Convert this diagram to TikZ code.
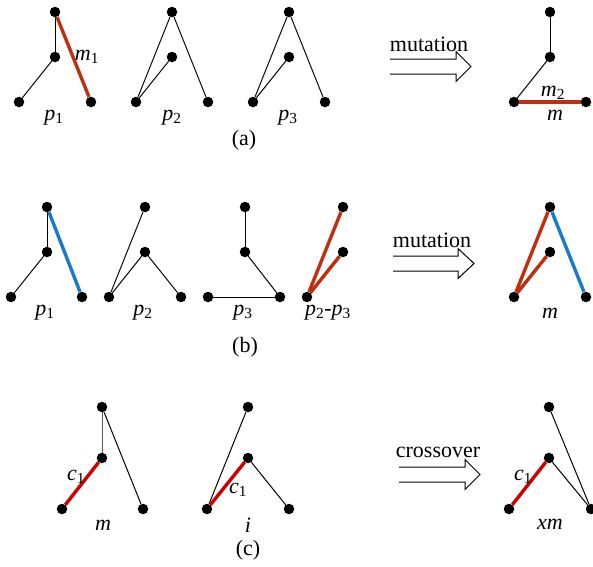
\documentclass[tikz,border=0pt]{standalone}
\usepackage{fontspec}
\setmainfont{Liberation Serif}
\definecolor{mutred}{RGB}{192,46,14}
\definecolor{crossred}{RGB}{206,0,0}
\definecolor{mutblue}{RGB}{24,122,204}
\begin{document}
\begin{tikzpicture}[x=1pt,y=-1pt,font=\fontsize{22}{26}\selectfont]

      \useasboundingbox (0,0) rectangle (593,566);

      % (a)
      \begin{scope}[every node/.style={circle,fill,inner sep=0pt,minimum size=10.5pt}]
        \node (a1)  at (55,12)  {};
        \node (a2)  at (55,57)  {};
        \node (a3)  at (19,102) {};
        \node (a4)  at (91,102) {};
        \node (a5)  at (172,12) {};
        \node (a6)  at (172,57) {};
        \node (a7)  at (136,102) {};
        \node (a8)  at (208,102) {};
        \node (a9)  at (289,12) {};
        \node (a10) at (289,57) {};
        \node (a11) at (253,102) {};
        \node (a12) at (325,102) {};
        \node (a13) at (550,12) {};
        \node (a14) at (550,57) {};
        \node (a15) at (514,102) {};
        \node (a16) at (586,102) {};
      \end{scope}

      \begin{scope}[every edge/.style={draw,line width=1pt}]
        \path (a1)  edge (a2);
        \path (a2)  edge (a3);
        \path (a5)  edge (a7);
        \path (a6)  edge (a7);
        \path (a5)  edge (a8);
        \path (a9)  edge (a11);
        \path (a10) edge (a11);
        \path (a9)  edge (a12);
        \path (a13) edge (a14);
        \path (a14) edge (a15);
      \end{scope}
      \begin{scope}[every edge/.style={draw,mutred,line width=3.4pt}]
        \path (a1)  edge (a4);
        \path (a15) edge (a16);
      \end{scope}

      \node (m1)  at (87,57)   {\textit{m}\textsubscript{1}};
      \node (pa1) at (54,118)  {\textit{p}\textsubscript{1}};
      \node (pa2) at (172,118) {\textit{p}\textsubscript{2}};
      \node (pa3) at (288,118) {\textit{p}\textsubscript{3}};
      \node (m2)  at (553,93)  {\textit{m}\textsubscript{2}};
      \node (ma)  at (555,115) {\textit{m}};
      \node (capa) at (244,140) {(a)};
      \node (muta) at (429,44) {mutation};
      \draw[line width=1pt,shift={(390,66.5)}]
        (0,-7.5) -- (66,-7.5) -- (66,-15) -- (81,0) -- (66,15) -- (66,7.5) -- (0,7.5);

      % (b)
      \begin{scope}[every node/.style={circle,fill,inner sep=0pt,minimum size=10.5pt}]
        \node (b1)  at (47,207)  {};
        \node (b2)  at (47,252)  {};
        \node (b3)  at (11,297)  {};
        \node (b4)  at (82,297)  {};
        \node (b5)  at (145,207) {};
        \node (b6)  at (145,252) {};
        \node (b7)  at (109,297) {};
        \node (b8)  at (181,297) {};
        \node (b9)  at (245,207) {};
        \node (b10) at (245,252) {};
        \node (b11) at (208,297) {};
        \node (b12) at (280,297) {};
        \node (b13) at (343,207) {};
        \node (b14) at (343,252) {};
        \node (b15) at (307,297) {};
        \node (b16) at (550,207) {};
        \node (b17) at (550,252) {};
        \node (b18) at (514,297) {};
        \node (b19) at (586,297) {};
      \end{scope}

      \begin{scope}[every edge/.style={draw,line width=1pt}]
        \path (b1)  edge (b2);
        \path (b2)  edge (b3);
        \path (b5)  edge (b7);
        \path (b6)  edge (b7);
        \path (b6)  edge (b8);
        \path (b9)  edge (b10);
        \path (b10) edge (b12);
        \path (b11) edge (b12);
      \end{scope}
      \begin{scope}[every edge/.style={draw,mutred,line width=3.4pt}]
        \path (b13) edge (b15);
        \path (b14) edge (b15);
        \path (b16) edge (b18);
        \path (b17) edge (b18);
      \end{scope}
      \begin{scope}[every edge/.style={draw,mutblue,line width=3.4pt}]
        \path (b1)  edge (b4);
        \path (b16) edge (b19);
      \end{scope}

      \node (pb1) at (45,313)  {\textit{p}\textsubscript{1}};
      \node (pb2) at (143,313) {\textit{p}\textsubscript{2}};
      \node (pb3) at (243,313) {\textit{p}\textsubscript{3}};
      \node (pb23) at (328,313) {\textit{p}\textsubscript{2}-\textit{p}\textsubscript{3}};
      \node (mb)  at (550,313) {\textit{m}};
      \node (capb) at (245,347) {(b)};
      \node (mutb) at (432,240) {mutation};
      \draw[line width=1pt,shift={(393,263.5)}]
        (0,-7.5) -- (65,-7.5) -- (65,-15) -- (81,0) -- (65,15) -- (65,7.5) -- (0,7.5);

      % (c)
      \begin{scope}[every node/.style={circle,fill,inner sep=0pt,minimum size=10.5pt}]
        \node (c1)  at (102,407) {};
        \node (c2)  at (102,458) {};
        \node (c3)  at (62,509)  {};
        \node (c4)  at (143,509) {};
        \node (c5)  at (248,407) {};
        \node (c6)  at (248,458) {};
        \node (c7)  at (207,509) {};
        \node (c8)  at (289,509) {};
        \node (c9)  at (549,407) {};
        \node (c10) at (549,458) {};
        \node (c11) at (509,509) {};
        \node (c12) at (591,509) {};
      \end{scope}

      \begin{scope}[every edge/.style={draw,line width=1pt}]
        \path (c1)  edge[black!65] (c2);
        \path (c1)  edge (c4);
        \path (c5)  edge (c7);
        \path (c6)  edge (c8);
        \path (c9)  edge (c12);
        \path (c10) edge (c12);
      \end{scope}
      \begin{scope}[every edge/.style={draw,crossred,line width=3.4pt}]
        \path (c2)  edge (c3);
        \path (c6)  edge (c7);
        \path (c10) edge (c11);
      \end{scope}

      \node (cm)  at (76,477)  {\textit{c}\textsubscript{1}};
      \node (ci)  at (238,490) {\textit{c}\textsubscript{1}};
      \node (cx)  at (523,477) {\textit{c}\textsubscript{1}};
      \node (mc)  at (103,525) {\textit{m}};
      \node (ic)  at (248,525) {\textit{i}};
      \node (xm)  at (550,524) {\textit{xm}};
      \node (capc) at (248,550) {(c)};
      \node (cross) at (438,452) {crossover};
      \draw[line width=1pt,shift={(399,474.5)}]
        (0,-7.5) -- (66,-7.5) -- (66,-15) -- (81,0) -- (66,15) -- (66,7.5) -- (0,7.5);

\end{tikzpicture}
\end{document}
